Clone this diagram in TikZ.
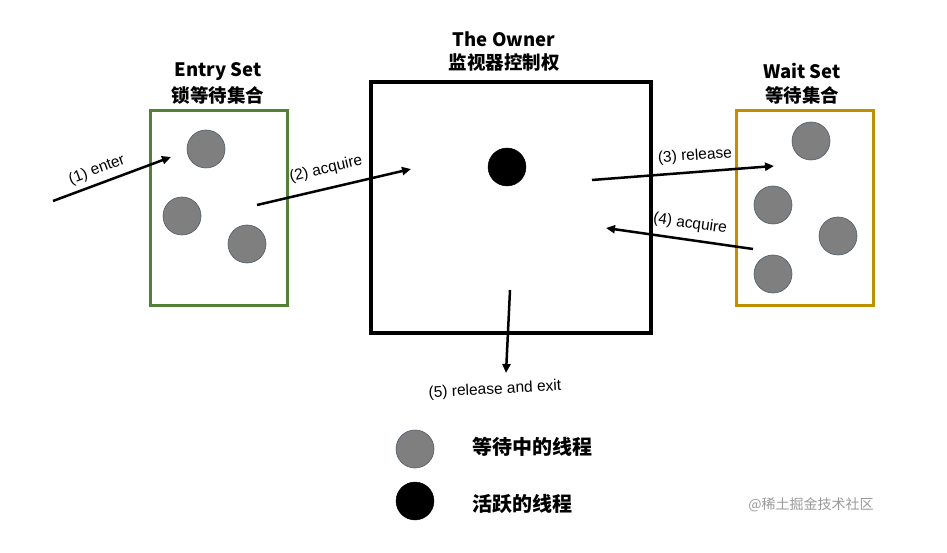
\documentclass[tikz,border=0pt]{standalone}
\usepackage{fontspec}
\setmainfont{Liberation Sans}
\newfontfamily\cjk{Noto Sans CJK SC}
\usetikzlibrary{arrows.meta}
\definecolor{entrygreen}{HTML}{548235}
\definecolor{waitgold}{HTML}{BF9000}
\definecolor{threadgray}{HTML}{7F7F7F}
\definecolor{threadedge}{HTML}{4E5B6B}
\begin{document}
\begin{tikzpicture}[x=1pt,y=-1pt,
  setbox/.style={draw,line width=3pt,minimum width=#1,inner sep=0pt},
  waitthread/.style={circle,fill=threadgray,draw=threadedge,line width=0.6pt,minimum size=38pt,inner sep=0pt},
  activethread/.style={circle,fill=black,draw=black,minimum size=38pt,inner sep=0pt},
  title/.style={font=\fontsize{18.5}{20}\selectfont\bfseries\cjk,inner sep=0pt},
  flow/.style={line width=2.5pt,-{Triangle[length=9pt,width=8pt]}},
  lbl/.style={font=\fontsize{15.5}{17}\selectfont,inner sep=0pt},
  legendtext/.style={font=\fontsize{20}{22}\selectfont\bfseries\cjk,inner sep=0pt,anchor=west}]
\useasboundingbox (0,0) rectangle (947,553);
% boxes
\node[setbox=137pt,minimum height=194pt,draw=entrygreen] (entry) at (218.5,208) {};
\node[setbox=280pt,minimum height=251pt,draw=black,line width=3.5pt] (owner) at (511,207.5) {};
\node[setbox=137pt,minimum height=194pt,draw=waitgold] (wait) at (804.5,208) {};
% titles
\node[title] (entryt1) at (218,72) {Entry Set};
\node[title] (entryt2) at (218,95) {锁等待集合};
\node[title] (ownert1) at (504,39) {The Owner};
\node[title] (ownert2) at (504,62) {监视器控制权};
\node[title] (waitt1) at (802,71) {Wait Set};
\node[title] (waitt2) at (802,95) {等待集合};
% threads
\node[waitthread] (e1) at (206,149) {};
\node[waitthread] (e2) at (182,216) {};
\node[waitthread] (e3) at (247,244) {};
\node[activethread] (o1) at (507,167) {};
\node[waitthread] (w1) at (811,141) {};
\node[waitthread] (w2) at (773,205) {};
\node[waitthread] (w3) at (838,236) {};
\node[waitthread] (w4) at (773,274) {};
% arrow end points
\coordinate (a1s) at (53,201);  \coordinate (a1e) at (171,157);
\coordinate (a2s) at (257,205); \coordinate (a2e) at (411,169);
\coordinate (a3s) at (592,180); \coordinate (a3e) at (774,166);
\coordinate (a4s) at (753,249); \coordinate (a4e) at (606,228);
\coordinate (a5s) at (510,290); \coordinate (a5e) at (506,373);
\draw[flow] (a1s) -- (a1e);
\draw[flow] (a2s) -- (a2e);
\draw[flow] (a3s) -- (a3e);
\draw[flow] (a4s) -- (a4e);
\draw[flow] (a5s) -- (a5e);
% labels
\node[lbl,rotate=20.5] (l1) at (97,170) {(1) enter};
\node[lbl,rotate=13] (l2) at (326,169) {(2) acquire};
\node[lbl,rotate=4] (l3) at (695,156) {(3) release};
\node[lbl,rotate=-8] (l4) at (690,224) {(4) acquire};
\node[lbl,rotate=3] (l5) at (495,390) {(5) release and exit};
% legend
\node[waitthread] (lg1) at (415,449) {};
\node[legendtext] (lg1t) at (472,447) {等待中的线程};
\node[activethread] (lg2) at (415,501) {};
\node[legendtext] (lg2t) at (472,504) {活跃的线程};
% watermark
\node[font=\fontsize{14}{16}\selectfont\cjk,text=black!40,inner sep=0pt] (wm) at (811,505) {@稀土掘金技术社区};
\end{tikzpicture}
\end{document}
